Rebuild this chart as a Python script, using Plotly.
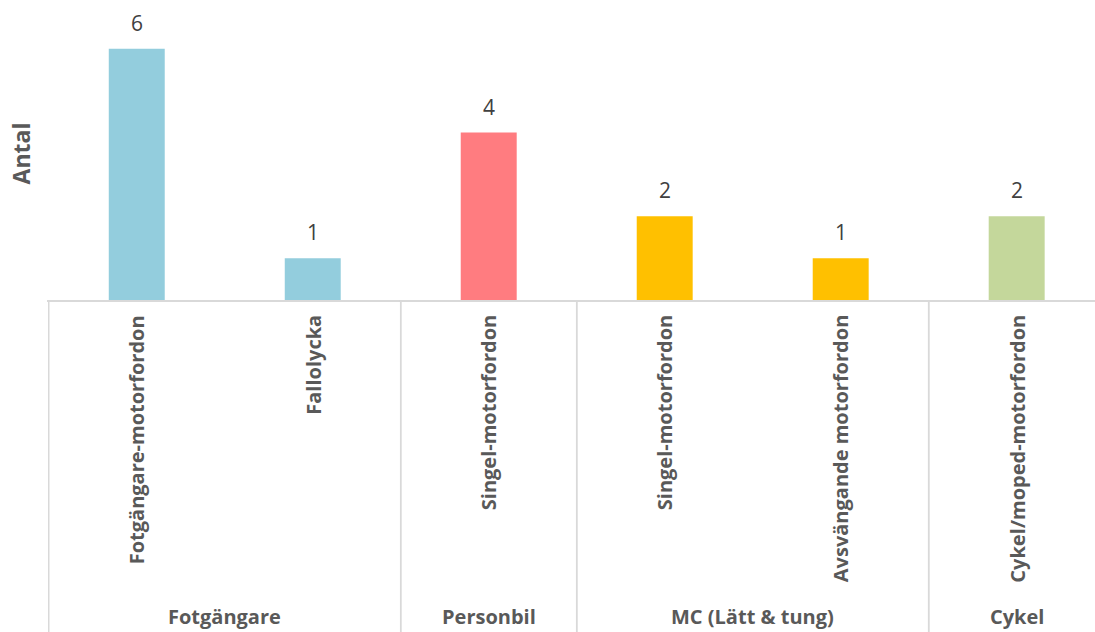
import plotly.graph_objects as go

groups = ["Fotgängare", "Fotgängare", "Personbil", "MC (Lätt & tung)", "MC (Lätt & tung)", "Cykel"]
categories = ["Fotgängare-motorfordon", "Fallolycka", "Singel-motorfordon",
              "Singel-motorfordon", "Avsvängande motorfordon", "Cykel/moped-motorfordon"]
values = [6, 1, 4, 2, 1, 2]
group_colors = {"Fotgängare": "#93CDDD", "Personbil": "#FF7C80",
                "MC (Lätt & tung)": "#FFC000", "Cykel": "#C4D79B"}

xpos = list(range(len(values)))
colors = [group_colors[g] for g in groups]

FONT = "Open Sans"
LABEL_GRAY = "#595959"
LINE_GRAY = "#D9D9D9"

fig = go.Figure(go.Bar(x=xpos, y=values, marker=dict(color=colors, line=dict(width=0)),
                       width=0.318, hoverinfo="skip"))

annotations = []
# value labels
for x, v in zip(xpos, values):
    annotations.append(dict(x=x, y=v, xref="x", yref="y", text=str(v), showarrow=False,
                            yanchor="bottom", yshift=10,
                            font=dict(family=FONT, size=21, color="#404040")))
# rotated category labels
for x, c in zip(xpos, categories):
    annotations.append(dict(x=x, y=0, xref="x", yref="paper", text="<b>%s</b>" % c,
                            showarrow=False, textangle=-90, yanchor="top", xanchor="center",
                            yshift=-13, font=dict(family=FONT, size=20, color=LABEL_GRAY)))
# group labels and dividers
unique_groups = []
for g in groups:
    if g not in unique_groups:
        unique_groups.append(g)
shapes = []
for g in unique_groups:
    idx = [i for i, gg in enumerate(groups) if gg == g]
    center = sum(idx) / len(idx)
    annotations.append(dict(x=center, y=0, xref="x", yref="paper", text="<b>%s</b>" % g,
                            showarrow=False, yanchor="bottom", yshift=-331, borderpad=0,
                            font=dict(family=FONT, size=20, color=LABEL_GRAY)))
    for b in (min(idx) - 0.5, max(idx) + 0.5):
        shapes.append(dict(type="line", xref="x", yref="paper", x0=b, x1=b, y0=0, y1=-1.2,
                           line=dict(color=LINE_GRAY, width=1.5)))

fig.update_layout(
    width=1095, height=632,
    margin=dict(l=47, r=0, t=7, b=332),
    paper_bgcolor="white", plot_bgcolor="white",
    showlegend=False,
    annotations=annotations, shapes=shapes,
    xaxis=dict(range=[-0.51, 5.445], showticklabels=False, showgrid=False, zeroline=False,
               showline=True, linecolor=LINE_GRAY, linewidth=1.5, ticks=""),
    yaxis=dict(range=[0, 7], showticklabels=False, showgrid=False, zeroline=False,
               showline=False, ticks="",
               title=dict(text="<b>Antal</b>", standoff=8,
                          font=dict(family=FONT, size=23, color=LABEL_GRAY))),
)

fig.write_html("out.html")
